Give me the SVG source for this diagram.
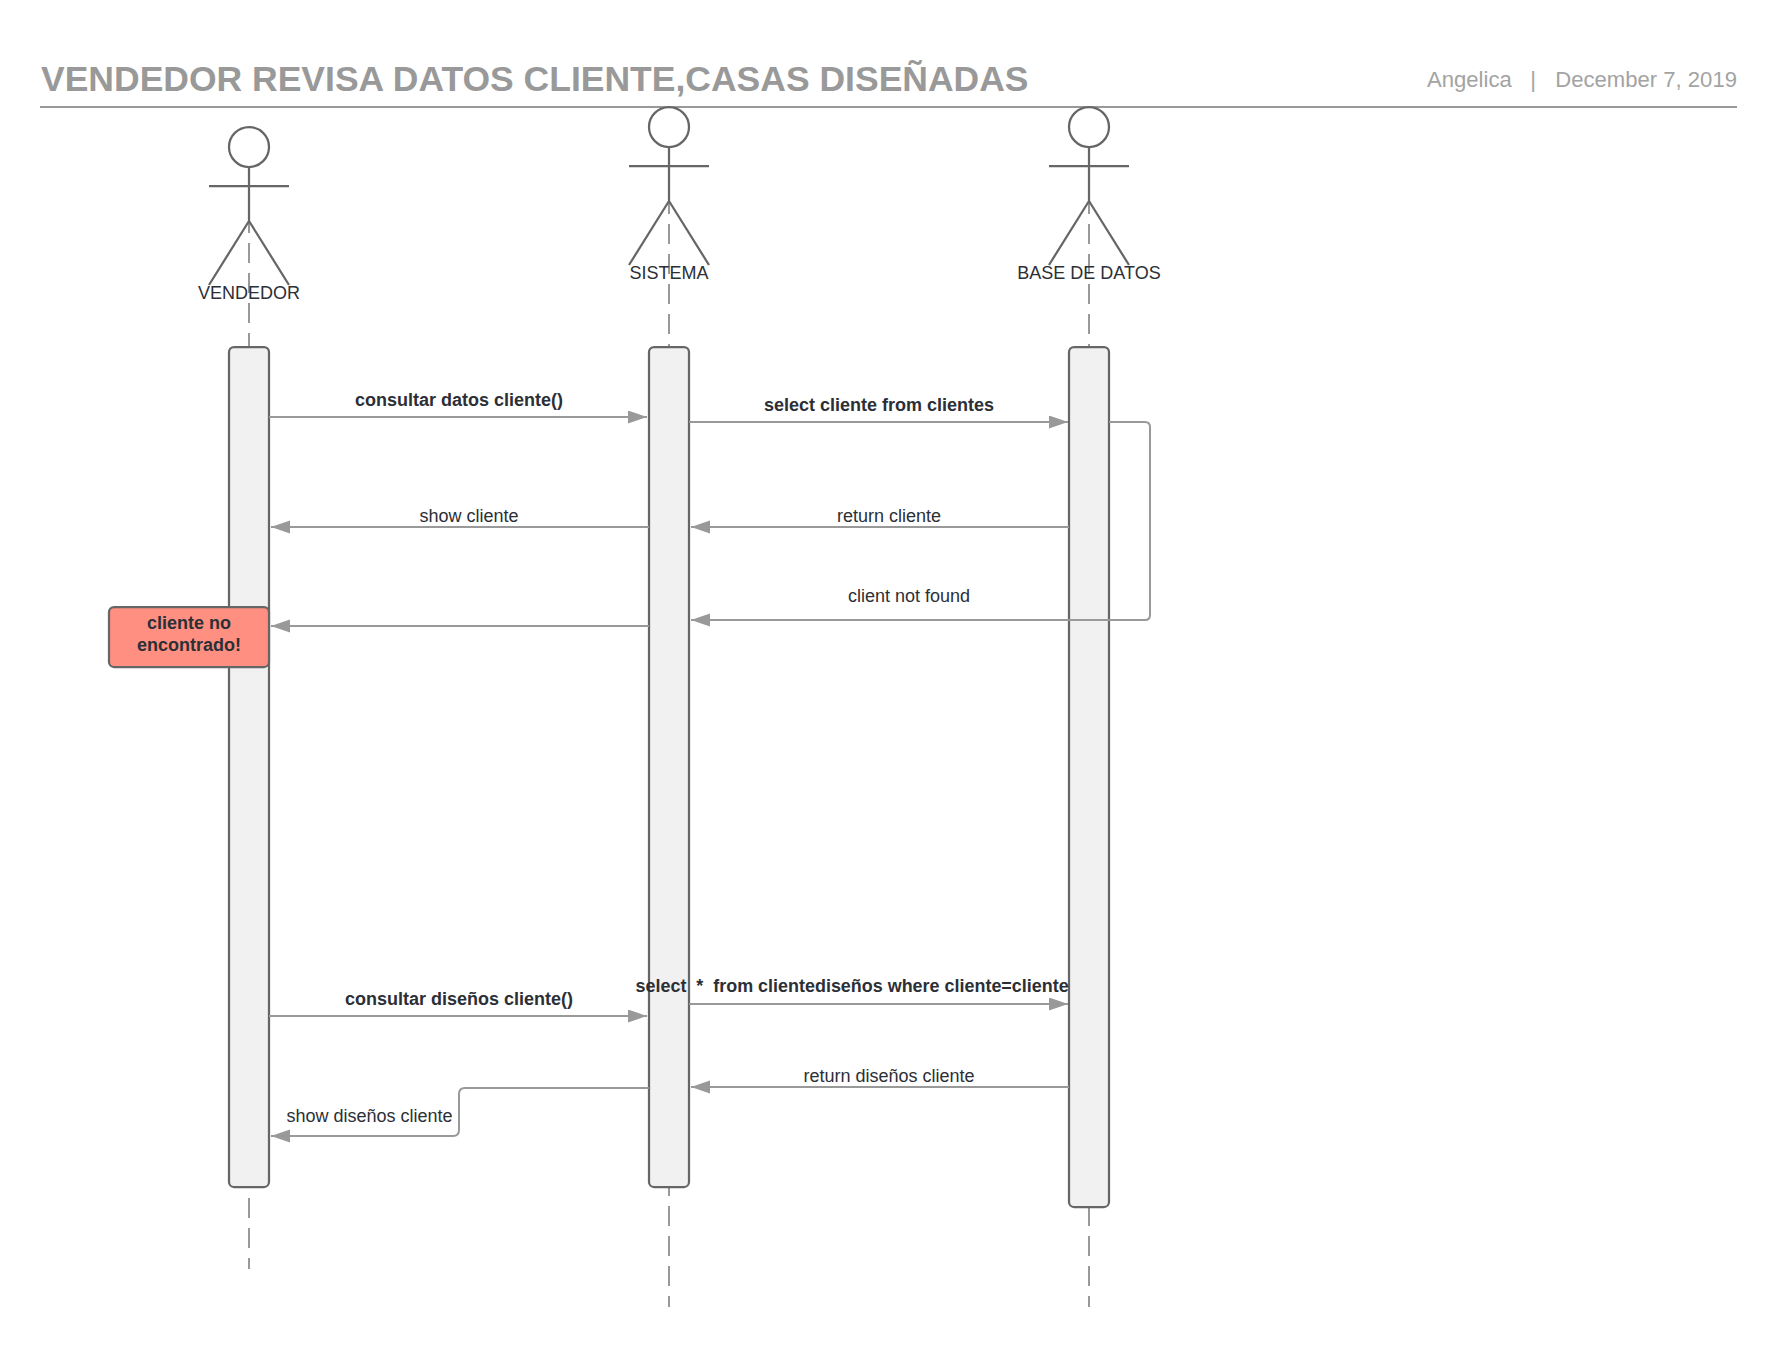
<svg xmlns="http://www.w3.org/2000/svg" width="1777" height="1347" viewBox="0 0 1777 1347">
<defs>
<marker id="ah" markerUnits="userSpaceOnUse" markerWidth="21" markerHeight="15" refX="19" refY="6.5" orient="auto"><path d="M0 0L19 6.5L0 13Z" fill="#999"/></marker>
</defs>
<style>
text{font-family:"Liberation Sans",Arial,sans-serif;fill:#2c2f36;font-size:18px}
.b{font-weight:bold}
.m{text-anchor:middle}
.h{font-size:22.1px;fill:#a3a3a3}
.act{fill:#f1f1f1;stroke:#666;stroke-width:2.25}
.st{fill:none;stroke:#666;stroke-width:2.25}
.ll{fill:none;stroke:#999;stroke-width:2;stroke-dasharray:20 10}
.c{fill:none;stroke:#999;stroke-width:2;marker-end:url(#ah)}
</style>
<rect width="1777" height="1347" fill="#fff"/>
<g id="header">
<text x="41" y="90.5" class="b" style="font-size:35.5px;fill:#999">VENDEDOR REVISA DATOS CLIENTE,CASAS DISEÑADAS</text>
<text x="1427" y="87" class="h">Angelica</text>
<text x="1533" y="87" class="h m">|</text>
<text x="1737" y="87" class="h" text-anchor="end">December 7, 2019</text>
<line x1="40" y1="107" x2="1737" y2="107" stroke="#999" stroke-width="2"/>
</g>
<g id="lifelines">
<line class="ll" x1="249" y1="213" x2="249" y2="347"/><line class="ll" x1="249" y1="1168" x2="249" y2="1269"/>
<line class="ll" x1="669" y1="194" x2="669" y2="347"/><line class="ll" x1="669" y1="1176" x2="669" y2="1307"/>
<line class="ll" x1="1089" y1="194" x2="1089" y2="347"/><line class="ll" x1="1089" y1="1206" x2="1089" y2="1307"/>
</g>
<g id="actor-vendedor"><g transform="translate(249,147)"><circle r="20" class="st"/><path class="st" d="M0 20V74M-40 39H40M-40 138L0 74L40 138"/></g><text x="249" y="299" class="m">VENDEDOR</text></g>
<g id="actor-sistema"><g transform="translate(669,127)"><circle r="20" class="st"/><path class="st" d="M0 20V74M-40 39H40M-40 138L0 74L40 138"/></g><text x="669" y="279" class="m">SISTEMA</text></g>
<g id="actor-base-de-datos"><g transform="translate(1089,127)"><circle r="20" class="st"/><path class="st" d="M0 20V74M-40 39H40M-40 138L0 74L40 138"/></g><text x="1089" y="279" class="m">BASE DE DATOS</text></g>
<g id="activation-vendedor"><rect class="act" x="229" y="347" width="40" height="840" rx="5"/></g>
<g id="activation-sistema"><rect class="act" x="649" y="347" width="40" height="840" rx="5"/></g>
<g id="activation-base-de-datos"><rect class="act" x="1069" y="347" width="40" height="860" rx="5"/></g>
<g id="connectors">
<path class="c" d="M269 417H647"/>
<path class="c" d="M689 422H1068"/>
<path class="c" d="M1069 527H691"/>
<path class="c" d="M649 527H271"/>
<path class="c" d="M1109 422H1145Q1150 422 1150 427V615Q1150 620 1145 620H691"/>
<path class="c" d="M649 626H271"/>
<path class="c" d="M269 1016H647"/>
<path class="c" d="M689 1004H1068"/>
<path class="c" d="M1069 1087H691"/>
<path class="c" d="M649 1088H465Q459 1088 459 1094V1130Q459 1136 453 1136H271"/>
</g>
<g id="labels">
<text x="459" y="406" class="m b">consultar datos cliente()</text>
<text x="879" y="411" class="m b">select cliente from clientes</text>
<text x="889" y="522" class="m">return cliente</text>
<text x="469" y="522" class="m">show cliente</text>
<text x="909" y="602" class="m">client not found</text>
<text x="459" y="1005" class="m b">consultar diseños cliente()</text>
<text x="635.5" y="992" class="b" xml:space="preserve" style="font-size:17.95px">select  *  from clientediseños where cliente=cliente</text>
<text x="889" y="1081.5" class="m">return diseños cliente</text>
<text x="286.5" y="1122">show diseños cliente</text>
</g>
<g id="note-cliente-no-encontrado"><rect x="109" y="607" width="160" height="60" rx="5" fill="#ff8f80" stroke="#666" stroke-width="2.25"/><text x="189" y="629" class="m b">cliente no</text><text x="189" y="651" class="m b">encontrado!</text></g>
</svg>
